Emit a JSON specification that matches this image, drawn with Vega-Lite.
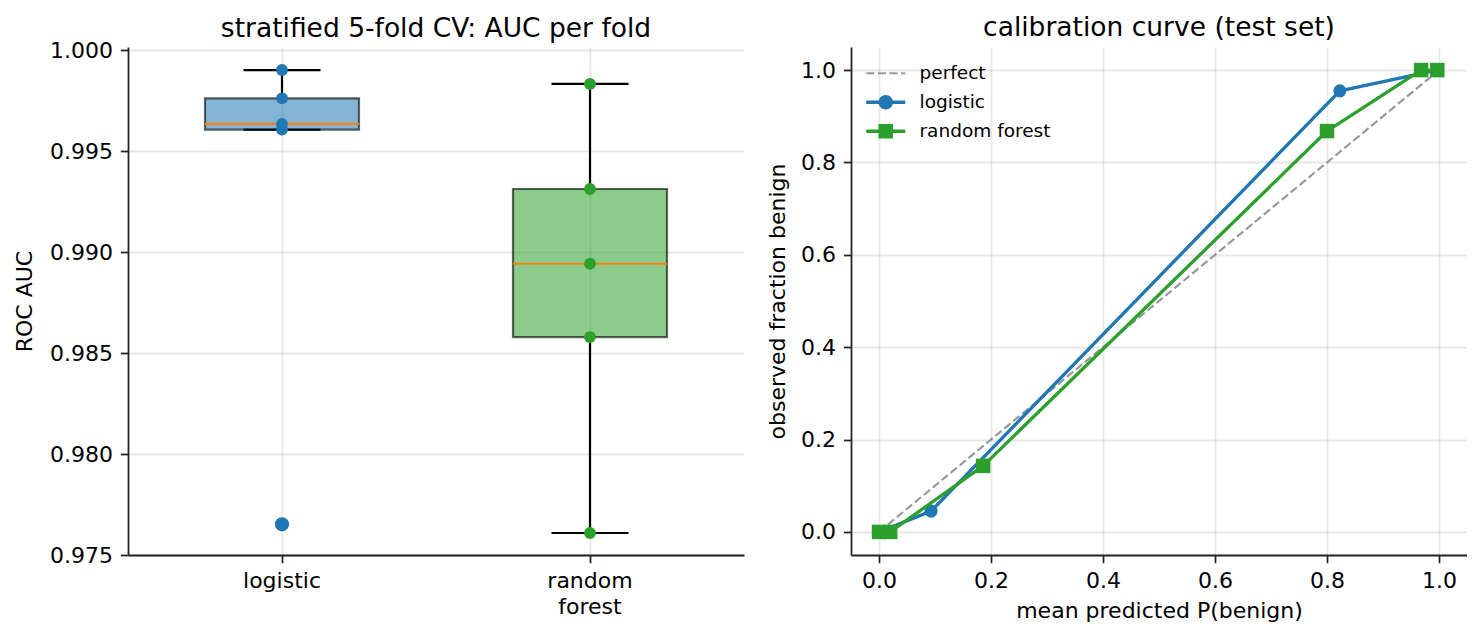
{
  "$schema": "https://vega.github.io/schema/vega-lite/v6.json",
  "background": "white",
  "padding": {"left": 13, "top": 14, "right": 0, "bottom": 0},
  "spacing": 107,
  "bounds": "flush",
  "config": {
    "font": "DejaVu Sans",
    "view": {"stroke": null},
    "axis": {
      "labelFont": "DejaVu Sans",
      "labelFontSize": 22,
      "labelColor": "black",
      "titleFont": "DejaVu Sans",
      "titleFontSize": 22,
      "titleFontWeight": "normal",
      "titleColor": "black",
      "titlePadding": 11,
      "domainColor": "#222222",
      "domainWidth": 1.76,
      "tickColor": "#222222",
      "tickWidth": 1.76,
      "tickSize": 7.7,
      "labelPadding": 7.7,
      "grid": true,
      "gridColor": "#b0b0b0",
      "gridOpacity": 0.3,
      "gridWidth": 1.76
    },
    "title": {
      "font": "DejaVu Sans",
      "fontSize": 26.5,
      "fontWeight": "normal",
      "color": "black",
      "anchor": "middle",
      "frame": "group",
      "offset": 6
    }
  },
  "datasets": {
    "folds": [
      {"model": "logistic", "auc": 0.99901},
      {"model": "logistic", "auc": 0.99761},
      {"model": "logistic", "auc": 0.99634},
      {"model": "logistic", "auc": 0.99606},
      {"model": "logistic", "auc": 0.97652},
      {"model": "random forest", "auc": 0.99832},
      {"model": "random forest", "auc": 0.99312},
      {"model": "random forest", "auc": 0.98942},
      {"model": "random forest", "auc": 0.98579},
      {"model": "random forest", "auc": 0.97609}
    ],
    "calib": [
      {"series": "perfect", "predicted": 0.0, "observed": 0.0},
      {"series": "perfect", "predicted": 1.0, "observed": 1.0},
      {"series": "logistic", "predicted": 0.0, "observed": 0.0},
      {"series": "logistic", "predicted": 0.093, "observed": 0.045},
      {"series": "logistic", "predicted": 0.823, "observed": 0.955},
      {"series": "logistic", "predicted": 0.997, "observed": 1.0},
      {"series": "random forest", "predicted": 0.0, "observed": 0.0},
      {"series": "random forest", "predicted": 0.02, "observed": 0.0},
      {"series": "random forest", "predicted": 0.186, "observed": 0.143},
      {"series": "random forest", "predicted": 0.8, "observed": 0.868},
      {"series": "random forest", "predicted": 0.968, "observed": 1.0},
      {"series": "random forest", "predicted": 0.997, "observed": 1.0}
    ]
  },
  "resolve": {"scale": {"color": "independent"}, "legend": {"color": "independent"}},
  "hconcat": [
    {
      "width": 616,
      "height": 508,
      "title": {"text": "stratified 5-fold CV: AUC per fold", "offset": -3},
      "data": {"name": "folds"},
      "encoding": {
        "x": {
          "field": "model",
          "type": "nominal",
          "scale": {"type": "band", "paddingInner": 0, "paddingOuter": 0},
          "axis": {
            "title": null,
            "labelAngle": 0,
            "bandPosition": 0.5,
            "labelLineHeight": 26,
            "labelExpr": "datum.value === 'random forest' ? ['random', 'forest'] : datum.label"
          }
        },
        "y": {
          "field": "auc",
          "type": "quantitative",
          "scale": {"domain": [0.975, 1.00015], "nice": false, "zero": false},
          "axis": {
            "title": "ROC AUC",
            "titlePadding": 13,
            "values": [0.975, 0.98, 0.985, 0.99, 0.995, 1.0],
            "format": ".3f"
          }
        },
        "color": {
          "field": "model",
          "type": "nominal",
          "scale": {"domain": ["logistic", "random forest"], "range": ["#1f77b4", "#2ca02c"]},
          "legend": null
        }
      },
      "layer": [
        {
          "mark": {
            "type": "boxplot",
            "extent": 1.5,
            "size": 154,
            "box": {"fillOpacity": 0.55, "stroke": "#000000", "strokeOpacity": 0.6, "strokeWidth": 2.2},
            "median": {"color": "#ff7f0e", "thickness": 2.2, "opacity": 1},
            "rule": {"color": "black", "strokeWidth": 2.2},
            "ticks": {"color": "black", "size": 77, "thickness": 2.2, "opacity": 1},
            "outliers": {"filled": false, "color": "black", "size": 150, "strokeWidth": 2, "opacity": 1}
          }
        },
        {
          "mark": {"type": "point", "filled": true, "size": 140, "opacity": 1}
        }
      ]
    },
    {
      "width": 616,
      "height": 508,
      "title": "calibration curve (test set)",
      "data": {"name": "calib"},
      "encoding": {
        "x": {
          "field": "predicted",
          "type": "quantitative",
          "scale": {"domain": [-0.05, 1.05], "nice": false, "zero": false},
          "axis": {
            "title": "mean predicted P(benign)",
            "titlePadding": 9,
            "values": [0, 0.2, 0.4, 0.6, 0.8, 1.0],
            "format": ".1f"
          }
        },
        "y": {
          "field": "observed",
          "type": "quantitative",
          "scale": {"domain": [-0.05, 1.05], "nice": false, "zero": false},
          "axis": {
            "title": "observed fraction benign",
            "values": [0, 0.2, 0.4, 0.6, 0.8, 1.0],
            "format": ".1f"
          }
        },
        "color": {
          "field": "series",
          "type": "nominal",
          "scale": {
            "domain": ["perfect", "logistic", "random forest"],
            "range": ["#999999", "#1f77b4", "#2ca02c"]
          },
          "legend": {
            "title": null,
            "orient": "none",
            "legendX": 12,
            "legendY": 17,
            "padding": 0,
            "labelFont": "DejaVu Sans",
            "labelFontSize": 18.5,
            "labelColor": "black",
            "symbolSize": 144,
            "symbolStrokeWidth": 0,
            "labelOffset": 38,
            "rowPadding": 10,
            "encode": {
              "symbols": {
                "update": {
                  "shape": {"signal": "datum.value === 'perfect' ? 'M-1,-0.183L0.35,-0.183L0.35,0.183L-1,0.183Z M0.93,-0.183L2.28,-0.183L2.28,0.183L0.93,0.183Z M2.86,-0.183L4.21,-0.183L4.21,0.183L2.86,0.183Z M4.79,-0.183L5.5,-0.183L5.5,0.183L4.79,0.183Z' : datum.value === 'logistic' ? 'M-1,-0.275L5.5,-0.275L5.5,0.275L-1,0.275Z M3.46,0A1.21,1.21 0 1,1 1.04,0A1.21,1.21 0 1,1 3.46,0Z' : 'M-1,-0.275L5.5,-0.275L5.5,0.275L-1,0.275Z M1.04,-1.21L3.46,-1.21L3.46,1.21L1.04,1.21Z'"},
                  "fill": {"signal": "datum.value === 'perfect' ? '#999999' : datum.value === 'logistic' ? '#1f77b4' : '#2ca02c'"},
                  "stroke": {"value": "transparent"},
                  "strokeWidth": {"value": 0},
                  "opacity": {"value": 1}
                }
              }
            }
          }
        }
      },
      "layer": [
        {
          "transform": [{"filter": "datum.series === 'perfect'"}],
          "mark": {"type": "line", "strokeWidth": 2.2, "strokeDash": [8.1, 3.5]}
        },
        {
          "transform": [{"filter": "datum.series === 'logistic'"}],
          "mark": {"type": "line", "strokeWidth": 3.3, "strokeJoin": "round"}
        },
        {
          "transform": [{"filter": "datum.series === 'logistic'"}],
          "mark": {"type": "point", "shape": "circle", "filled": true, "size": 170, "opacity": 1}
        },
        {
          "transform": [{"filter": "datum.series === 'random forest'"}],
          "mark": {"type": "line", "strokeWidth": 3.3, "strokeJoin": "round"}
        },
        {
          "transform": [{"filter": "datum.series === 'random forest'"}],
          "mark": {"type": "point", "shape": "square", "filled": true, "size": 210, "opacity": 1}
        }
      ]
    }
  ]
}
